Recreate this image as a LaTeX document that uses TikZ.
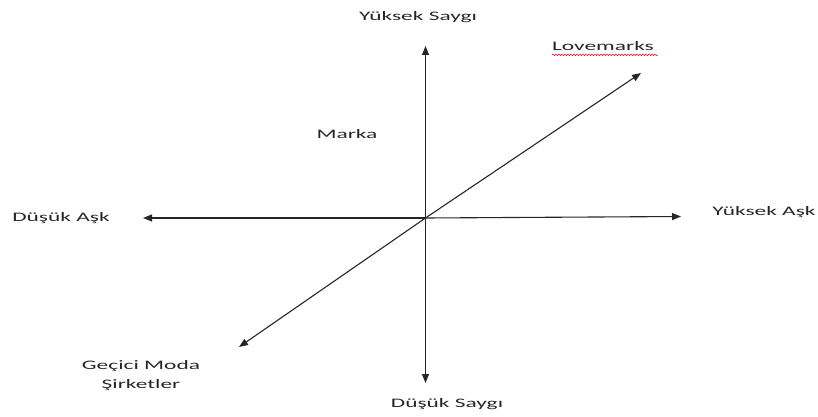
\documentclass[tikz,border=0pt]{standalone}
\usepackage{fontspec}
\setmainfont{Carlito}
\usetikzlibrary{arrows.meta,decorations.pathmorphing}
\definecolor{txt}{HTML}{262626}
\newcommand\wide[1]{\scalebox{1.8}[1]{#1}}
\tikzset{
  lbl/.style={inner sep=0pt, anchor=base, text=txt, font=\fontsize{13}{19}\selectfont},
  axis/.style={line width=1.1pt, draw=black!85, -{Triangle[length=9pt,width=7pt]}},
}
\begin{document}
\begin{tikzpicture}[x=1pt,y=-1pt]
\useasboundingbox (0,0) rectangle (818,417);
\coordinate (c) at (425.5,218);
\coordinate (top) at (425.5,46);
\coordinate (bot) at (425.5,383);
\coordinate (lft) at (143,218);
\coordinate (rgt) at (681,216.5);
\coordinate (ne) at (641,73);
\coordinate (sw) at (239,347);
\draw[axis] (c) -- (top);
\draw[axis] (c) -- (bot);
\draw[axis] (c) -- (lft);
\draw[axis] (c) -- (rgt);
\draw[axis] (c) -- (ne);
\draw[axis] (c) -- (sw);
\node[lbl] (ys) at (418,21) {\wide{Yüksek Saygı}};
\node[lbl] (lm) at (603,51) {\wide{Lovemarks}};
\draw[red!85!black, line width=0.5pt, decorate, decoration={snake, amplitude=0.8pt, segment length=3pt}] (lm.south west) ++(0,3.5) -- ++(106,0);
\node[lbl] (mk) at (347,139) {\wide{Marka}};
\node[lbl] (da) at (61,221) {\wide{Düşük Aşk}};
\node[lbl] (ya) at (764,215) {\wide{Yüksek Aşk}};
\node[lbl] (gm) at (141,369) {\wide{\begin{tabular}[t]{@{}c@{}}Geçici Moda\\Şirketler\end{tabular}}};
\node[lbl] (ds) at (447,407) {\wide{Düşük Saygı}};
\end{tikzpicture}
\end{document}
